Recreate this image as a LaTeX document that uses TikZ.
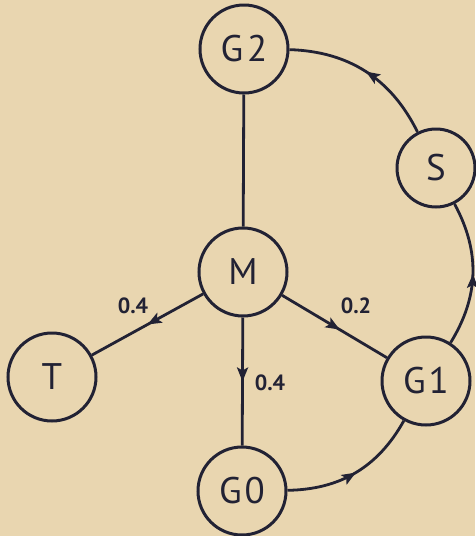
\documentclass[tikz,border=0pt]{standalone}
\usepackage{fontspec}
\setmainfont{PT Sans}
\usetikzlibrary{arrows.meta,decorations.markings}
\definecolor{paper}{RGB}{233,214,176}
\definecolor{ink}{RGB}{34,34,52}
\begin{document}
\begin{tikzpicture}[x=1pt,y=-1pt,
 st/.style={circle,draw=ink,line width=3pt,minimum size=88pt,inner sep=0pt,
   font=\fontsize{37}{37}\selectfont,text=ink},
 conn/.style={draw=ink,line width=2.8pt},
 midarrow/.style={postaction={decorate},decoration={markings,
   mark=at position #1 with {\arrow[ink]{Stealth[length=14pt,width=11pt,inset=3pt]}}}},
 lbl/.style={font=\fontsize{22}{22}\selectfont\bfseries,text=ink,inner sep=0pt}]
\fill[paper] (0,0) rectangle (475,536);
\useasboundingbox (0,0) rectangle (475,536);
\node[st] (G2) at (244,49) {G\kern4pt2};
\node[st,minimum size=78pt] (S) at (436,168) {S};
\node[st] (M) at (243,272) {M};
\node[st] (T) at (52,377) {T};
\node[st] (G1) at (426,381) {G\kern3pt1};
\node[st] (G0) at (242,491) {G\kern3pt0};
\draw[conn] (G2) -- (M);
\draw[conn,midarrow=0.5] (M) -- (T);
\draw[conn,midarrow=0.55] (M) -- (G1);
\draw[conn,midarrow=0.5] (M) -- (G0);
\draw[conn,midarrow=0.5] (G0) to[bend right=30] (G1);
\draw[conn,midarrow=0.5] (G1) to[bend right=30] (S);
\draw[conn,midarrow=0.5] (S) to[bend right=31] (G2);
\node[lbl] (l1) at (133,306) {0.4};
\node[lbl] (l2) at (356,306) {0.2};
\node[lbl] (l3) at (270,383) {0.4};
\end{tikzpicture}
\end{document}
